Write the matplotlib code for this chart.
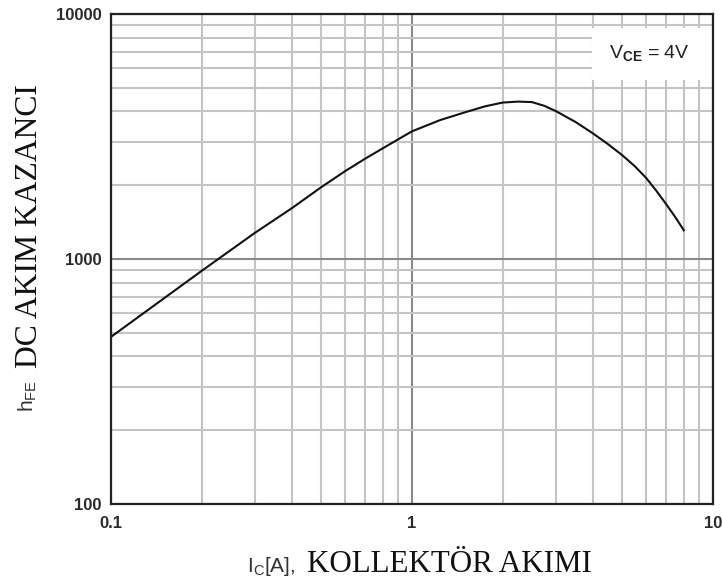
import matplotlib
matplotlib.use("Agg")
import matplotlib.pyplot as plt
from matplotlib.patches import Rectangle
from matplotlib.ticker import FixedLocator, FixedFormatter, LogLocator, NullFormatter

plt.rcParams["mathtext.fontset"] = "custom"
plt.rcParams["mathtext.rm"] = "Liberation Sans"
plt.rcParams["mathtext.bf"] = "Liberation Sans:bold"

# collector current [A] and DC gain
ic = [0.1, 0.2, 0.3, 0.4, 0.5, 0.6, 0.7, 0.8, 0.9, 1.0, 1.24, 1.5, 1.75,
      2.0, 2.25, 2.5, 2.75, 3.0, 3.5, 4.0, 4.5, 5.0, 5.5, 6.0, 6.5, 7.0,
      7.5, 8.0]
hfe = [481, 894, 1276, 1616, 1966, 2285, 2570, 2830, 3080, 3320, 3690, 3970,
       4200, 4350, 4390, 4370, 4220, 4020, 3620, 3250, 2930, 2650, 2390,
       2140, 1890, 1670, 1480, 1310]

x_ticks = [0.1, 1, 10]
x_labels = ["0.1", "1", "10"]
y_ticks = [100, 1000, 10000]
y_labels = ["100", "1000", "10000"]

W, H = 722, 581
fig = plt.figure(figsize=(W / 100, H / 100), dpi=100)
ax = fig.add_axes([111 / W, 1 - 504 / H, (713 - 111) / W, (504 - 14) / H])

ax.set_xscale("log")
ax.set_yscale("log")
ax.set_xlim(0.1, 10)
ax.set_ylim(100, 10000)

# grid: light minor lines, darker decade lines
ax.xaxis.set_minor_locator(LogLocator(base=10, subs=range(2, 10)))
ax.yaxis.set_minor_locator(LogLocator(base=10, subs=range(2, 10)))
ax.xaxis.set_minor_formatter(NullFormatter())
ax.yaxis.set_minor_formatter(NullFormatter())
ax.grid(True, which="minor", color="#c4c4c4", linewidth=1.5)
ax.grid(True, which="major", color="#8a8a8a", linewidth=1.5)
ax.set_axisbelow(True)

ax.xaxis.set_major_locator(FixedLocator(x_ticks))
ax.xaxis.set_major_formatter(FixedFormatter(x_labels))
ax.yaxis.set_major_locator(FixedLocator(y_ticks))
ax.yaxis.set_major_formatter(FixedFormatter(y_labels))
ax.tick_params(which="both", length=0)
ax.tick_params(axis="x", pad=9)
ax.tick_params(axis="y", pad=7)
for lab in ax.get_xticklabels() + ax.get_yticklabels():
    lab.set_fontfamily("Liberation Sans")
    lab.set_fontsize(12)
    lab.set_fontweight("bold")
    lab.set_color("#2a2a2a")

for sp in ax.spines.values():
    sp.set_linewidth(1.6)
    sp.set_color("#222222")

ax.plot(ic, hfe, color="#111111", linewidth=1.5)

# white box hiding the grid behind the condition note
ax.add_patch(Rectangle((0.799, 0.865), 0.2, 0.106, transform=ax.transAxes,
                       facecolor="white", edgecolor="none", zorder=1.5))
ax.text(0.895, 0.918, r"V$_{\mathbf{CE}}$ = 4V", transform=ax.transAxes,
        ha="center", va="center", fontsize=14, family="Liberation Sans",
        color="#222222", zorder=3)

# axis labels: sans symbol followed by serif words
fig.text(247 / W, 1 - 572 / H, r"I$_\mathrm{C}$[A],", ha="left", va="baseline",
         fontsize=15, family="Liberation Sans", color="#333333")
fig.text(307 / W, 1 - 572 / H, "KOLLEKTÖR AKIMI", ha="left", va="baseline",
         fontsize=22.3, family="Liberation Serif", color="#111111")

fig.text(33 / W, 1 - 412 / H, r"h$_\mathrm{FE}$", ha="left", va="baseline",
         rotation=90, rotation_mode="anchor", fontsize=15,
         family="Liberation Sans", color="#333333")
fig.text(37 / W, 1 - 368 / H, "DC AKIM KAZANCI", ha="left", va="baseline",
         rotation=90, rotation_mode="anchor", fontsize=22.8,
         family="Liberation Serif", color="#111111")

fig.savefig("out.png", dpi=100)
